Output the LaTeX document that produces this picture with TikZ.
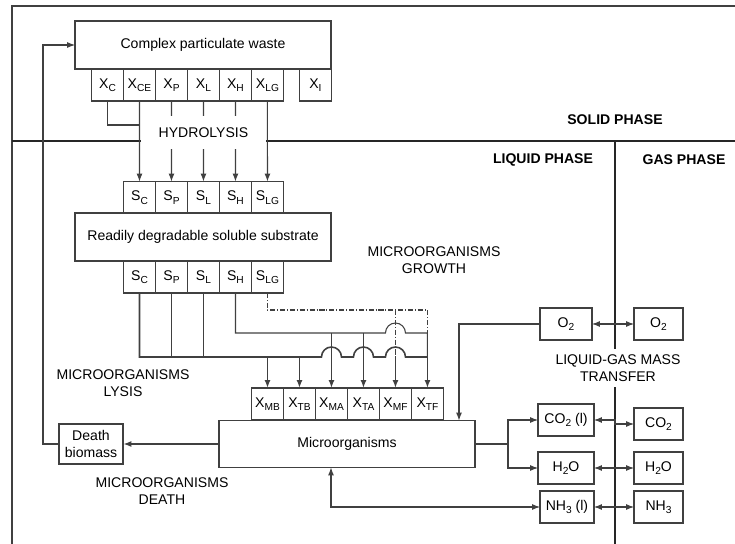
\documentclass[tikz,border=0pt]{standalone}
\usepackage{fontspec}
\setmainfont{Liberation Sans}
\usepackage{xcolor}
\usetikzlibrary{positioning,arrows.meta,calc}

\definecolor{linecol}{gray}{0.25}
\newcommand{\sbs}[1]{\raisebox{-0.45ex}{\fontsize{5.8}{6}\selectfont #1}}

\begin{document}
\begin{tikzpicture}[
			x=0.02cm, y=-0.02cm,
			node distance=0pt,
			font=\fontsize{8}{9.7}\selectfont,
			box/.style={rectangle, draw=linecol, line width=0.6pt, minimum width=5.12cm, minimum height=0.96cm, outer sep=0pt},
			cell/.style={rectangle, draw=linecol, line width=0.6pt, minimum width=0.64cm, minimum height=0.64cm, inner sep=0pt, outer sep=0pt},
			gasbox/.style={rectangle, draw=linecol, line width=0.6pt, minimum width=0.98cm, minimum height=0.64cm, inner sep=0pt, outer sep=0pt},
			liqbox/.style={gasbox, minimum width=1.12cm},
			note/.style={align=center},
			phase/.style={font=\fontsize{8}{9.7}\selectfont\bfseries},
			wire/.style={draw=linecol, line width=0.6pt},
			bus/.style={draw=linecol, line width=0.9pt},
			frameline/.style={draw=linecol, line width=0.6pt},
			sepline/.style={draw=black!85, line width=1.1pt},
			arrow/.style={wire, -{Latex[length=4.5pt,width=3.4pt]}},
			busarrow/.style={bus, -{Latex[length=4.5pt,width=3.4pt]}},
			biarrow/.style={wire, {Latex[length=4.5pt,width=3.4pt]}-{Latex[length=4.5pt,width=3.4pt]}},
			dashdot/.style={draw=linecol, line width=0.6pt, dash pattern=on 3pt off 1pt on 0.6pt off 1pt}
		]
		\useasboundingbox (0,0) rectangle (735,544);

		% frame and phase borders
		\draw[frameline] (12,544) -- (12,6) -- (735,6);
		\draw[sepline] (12,141) -- (735,141);
		\draw[sepline] (615,141) -- (615,544);

		\node[phase] (solid) at (615,120) {SOLID PHASE};
		\node[phase] (liquid) at (543,160) {LIQUID PHASE};
		\node[phase] (gas) at (684,160) {GAS PHASE};

		% complex particulate waste
		\node[box] (waste) at (203,45) {Complex particulate waste};
		\node[cell] (xc) at (107.5,85) {X\sbs{C}};
		\node[cell, right=of xc] (xce) {X\sbs{CE}};
		\node[cell, right=of xce] (xp) {X\sbs{P}};
		\node[cell, right=of xp] (xl) {X\sbs{L}};
		\node[cell, right=of xl] (xh) {X\sbs{H}};
		\node[cell, right=of xh] (xlg) {X\sbs{LG}};
		\node[cell, right=0.32cm of xlg] (xi) {X\sbs{I}};

		% soluble substrate
		\node[cell] (sc) at (139.5,197.5) {S\sbs{C}};
		\node[cell, right=of sc] (sp) {S\sbs{P}};
		\node[cell, right=of sp] (sl) {S\sbs{L}};
		\node[cell, right=of sl] (sh) {S\sbs{H}};
		\node[cell, right=of sh] (slg) {S\sbs{LG}};
		\node[box] (ready) at (203,237) {Readily degradable soluble substrate};
		\node[cell] (sc2) at (139.5,277) {S\sbs{C}};
		\node[cell, right=of sc2] (sp2) {S\sbs{P}};
		\node[cell, right=of sp2] (sl2) {S\sbs{L}};
		\node[cell, right=of sl2] (sh2) {S\sbs{H}};
		\node[cell, right=of sh2] (slg2) {S\sbs{LG}};

		% microorganisms
		\node[cell] (xmb) at (267.5,404) {X\sbs{MB}};
		\node[cell, right=of xmb] (xtb) {X\sbs{TB}};
		\node[cell, right=of xtb] (xma) {X\sbs{MA}};
		\node[cell, right=of xma] (xta) {X\sbs{TA}};
		\node[cell, right=of xta] (xmf) {X\sbs{MF}};
		\node[cell, right=of xmf] (xtf) {X\sbs{TF}};
		\node[box, minimum height=0.94cm] (micro) at (347,444) {Microorganisms};
		\node[rectangle, draw=linecol, line width=0.6pt, minimum width=1.28cm, minimum height=0.8cm, inner sep=0pt, align=center] (death) at (91,444) {Death\\biomass};

		% liquid and gas species
		\node[liqbox, minimum width=1.04cm] (o2l) at (566,324) {O\sbs{2}};
		\node[gasbox] (o2g) at (658.5,324) {O\sbs{2}};
		\node[liqbox] (co2l) at (566,420) {CO\sbs{2} (l)};
		\node[gasbox] (co2g) at (658.5,424) {CO\sbs{2}};
		\node[liqbox] (h2ol) at (566,468) {H\sbs{2}O};
		\node[gasbox] (h2og) at (658.5,468) {H\sbs{2}O};
		\node[liqbox, minimum width=1.08cm] (nh3l) at (567,507) {NH\sbs{3} (l)};
		\node[gasbox] (nh3g) at (658.5,507) {NH\sbs{3}};

		\coordinate (hyd) at (0,125);
		\coordinate (busA) at (0,357);
		\coordinate (busB) at (0,333);
		\coordinate (busC) at (0,310);
		\coordinate (feed) at (43,0);
		\coordinate (o2turn) at (459,0);
		\coordinate (fork) at (508,0);
		\coordinate (nhturn) at (331,0);
		\coordinate (sep) at (615,0);

		% hydrolysis
		\draw[wire] (xc.south) |- (xce.south |- hyd);
		\draw[arrow] (xp.south) -- (sp.north);
		\draw[arrow] (xl.south) -- (sl.north);
		\draw[arrow] (xh.south) -- (sh.north);
		\node[fill=white, minimum width=2.5cm, minimum height=0.66cm, inner sep=0pt] (hydro) at (203.5,132.5) {HYDROLYSIS};
		\draw[arrow] (xce.south) -- (sc.north);
		\draw[arrow] (xlg.south) -- (slg.north);

		% growth
		\draw[bus] (sc2.south) |- ($(xma.north |- busA)+(-10,0)$)
			arc[start angle=180, end angle=0, radius=0.2cm] -- ($(xta.north |- busA)+(-10,0)$)
			arc[start angle=180, end angle=0, radius=0.2cm] -- ($(xmf.north |- busA)+(-10,0)$)
			arc[start angle=180, end angle=0, radius=0.2cm] -- (xtf.north |- busA);
		\draw[bus] (sp2.south) -- (sp2.south |- busA);
		\draw[bus] (sl2.south) -- (sl2.south |- busA);
		\draw[wire] (sh2.south) |- ($(xmf.north |- busB)+(-10,0)$)
			arc[start angle=180, end angle=0, radius=0.2cm] -- (xtf.north |- busB) -- (xtf.north |- busA);
		\draw[dashdot] (slg2.south) |- (xtf.north |- busC) -- (xtf.north |- busB);
		\draw[dashdot] (xmf.north |- busC) -- (xmf.north |- busA);
		\draw[busarrow] (xmb.north |- busA) -- (xmb.north);
		\draw[busarrow] (xtb.north |- busA) -- (xtb.north);
		\draw[busarrow] (xma.north |- busB) -- (xma.north);
		\draw[busarrow] (xta.north |- busB) -- (xta.north);
		\draw[busarrow] (xmf.north |- busA) -- (xmf.north);
		\draw[busarrow] (xtf.north |- busA) -- (xtf.north);

		% death and lysis
		\draw[arrow] (micro.west) -- (death.east);
		\draw[arrow] (death.west) -- (feed |- death.west) |- (waste.west);

		% exchange with the liquid
		\draw[arrow] (o2l.west) -| (o2turn |- micro.north);
		\draw[wire] (micro.east) -- (fork |- micro.east);
		\draw[arrow] (fork |- micro.east) |- (co2l.west);
		\draw[arrow] (fork |- micro.east) |- (h2ol.west);
		\draw[biarrow] (nh3l.west) -| (nhturn |- micro.south);

		% liquid-gas transfer
		\draw[biarrow] (o2l.east) -- (o2g.west);
		\draw[biarrow] (co2l.east) -- (sep |- co2l.east) |- (co2g.west);
		\draw[biarrow] (h2ol.east) -- (h2og.west);
		\draw[biarrow] (nh3l.east) -- (nh3g.west);
		\node[note, fill=white] (transfer) at (618,368) {LIQUID-GAS MASS\\TRANSFER};

		\node[note] (growth) at (434,260) {MICROORGANISMS\\GROWTH};
		\node[note] (lysis) at (123,383) {MICROORGANISMS\\LYSIS};
		\node[note] (dying) at (162,491) {MICROORGANISMS\\DEATH};
	\end{tikzpicture}
\end{document}
